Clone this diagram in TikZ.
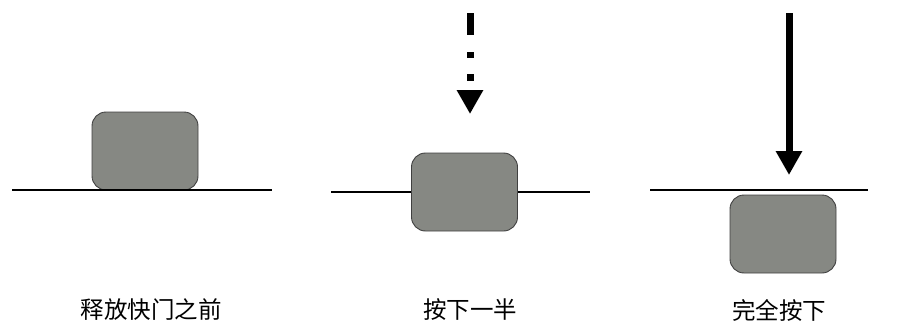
\documentclass[tikz,border=0pt]{standalone}
\usepackage{fontspec}
\newfontfamily\cjk{Noto Sans CJK SC}
\usetikzlibrary{arrows.meta}

\begin{document}
\begin{tikzpicture}[x=1pt,y=-1pt,line cap=butt,
  key/.style={draw=black!75,line width=0.9pt,fill={rgb,255:red,134;green,136;blue,131},
    rounded corners=14pt,minimum width=106pt,minimum height=78pt,inner sep=0pt},
  base/.style={line width=2.4pt},
  push/.style={line width=7pt,-{Triangle[length=24pt,width=25pt]}},
  caption/.style={font=\cjk\fontsize{23.5}{26}\selectfont}]
  \useasboundingbox (0,0) rectangle (897,324);
  % before release
  \coordinate (l1) at (12,190);
  \coordinate (r1) at (272,190);
  \node[key] (k1) at (145,151) {};
  \draw[base] (l1) -- (r1);
  \node[caption] (t1) at (151,310) {释放快门之前};
  % half pressed
  \coordinate (l2) at (331,192);
  \coordinate (r2) at (590,192);
  \draw[base] (l2) -- (r2);
  \node[key] (k2) at (464.5,192) {};
  \coordinate (a2) at (470,13);
  \coordinate (b2) at (470,114);
  \draw[push,dash pattern=on 22pt off 17pt on 6pt off 16pt on 7pt off 20pt] (a2) -- (b2);
  \node[caption] (t2) at (470,310) {按下一半};
  % fully pressed
  \coordinate (l3) at (650,190);
  \coordinate (r3) at (868,190);
  \draw[base] (l3) -- (r3);
  \node[key] (k3) at (783,234) {};
  \coordinate (a3) at (789,13);
  \coordinate (b3) at (789,175);
  \draw[push] (a3) -- (b3);
  \node[caption] (t3) at (779,310) {完全按下};
\end{tikzpicture}
\end{document}
